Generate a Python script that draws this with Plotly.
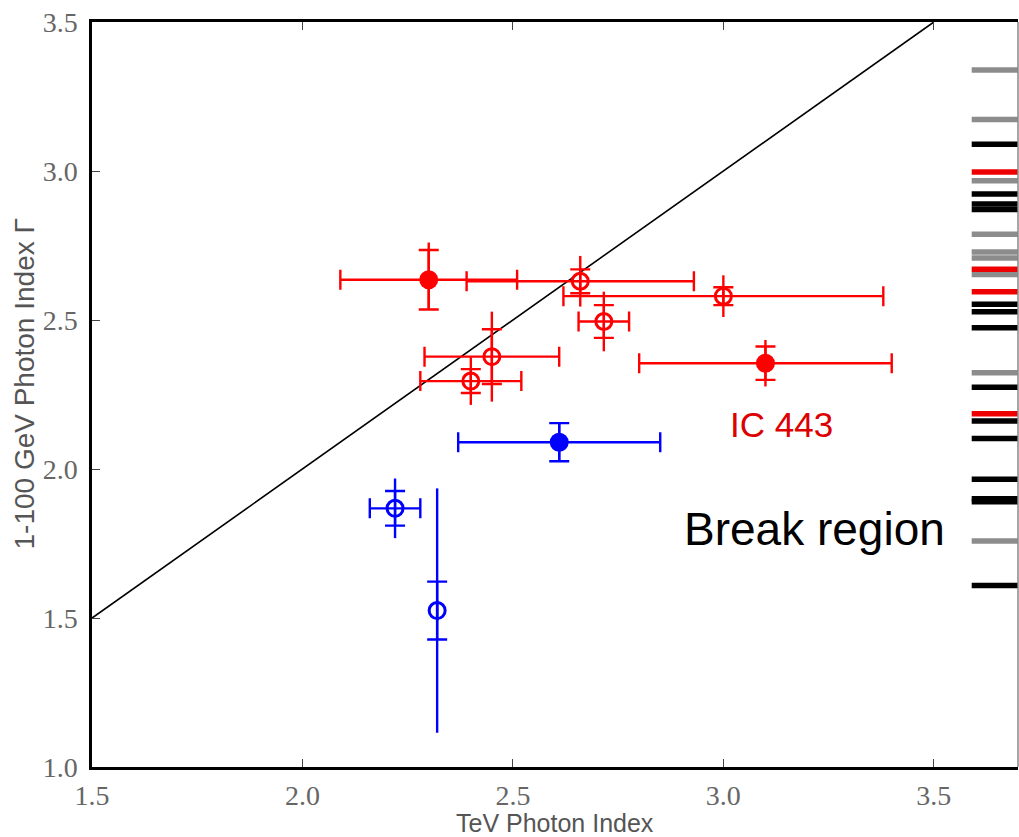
import plotly.graph_objects as go

# ---------------- data ----------------
# red (IC 443-like) sources, filled markers
red_filled_x = [2.30, 3.10]
red_filled_y = [2.635, 2.355]
red_filled_xerr = [0.21, 0.30]
red_filled_ystat = [0.10, 0.056]
red_filled_ysys_plus = [0.125, 0.078]
red_filled_ysys_minus = [0.10, 0.078]

# red open markers
red_open_x = [2.66, 3.00, 2.716, 2.45, 2.40]
red_open_y = [2.63, 2.58, 2.495, 2.377, 2.295]
red_open_xerr = [0.27, 0.38, 0.06, 0.16, 0.12]
red_open_ystat = [0.04, 0.03, 0.055, 0.092, 0.04]
red_open_ysys = [0.085, 0.07, 0.10, 0.151, 0.08]

# blue filled
blue_filled_x = [2.61]
blue_filled_y = [2.09]
blue_filled_xerr = [0.24]
blue_filled_ystat = [0.064]
blue_filled_ysys = [0.064]

# blue open
blue_open_x = [2.22, 2.32]
blue_open_y = [1.868, 1.525]
blue_open_xerr = [0.06, 0.0]
blue_open_ystat = [0.058, 0.097]
blue_open_ysys = [0.10, 0.41]

# y = x reference line
diag = [1.5, 3.5]

# "break region" indices shown as ticks on the right edge
break_gray = [3.339, 3.173, 2.967, 2.788, 2.728, 2.708, 2.653, 2.323, 1.758]
break_black = [3.090, 2.923, 2.889, 2.871, 2.553, 2.528, 2.474, 2.274, 2.161,
               2.102, 1.966, 1.900, 1.890, 1.609]
break_red = [2.997, 2.670, 2.595, 2.185]

x_ticks = [1.5, 2.0, 2.5, 3.0, 3.5]
y_ticks = [1.0, 1.5, 2.0, 2.5, 3.0, 3.5]
x_range = [1.5, 3.7]
y_range = [1.0, 3.5]
break_x0 = 3.59

RED = "#ff0000"
BLUE = "#0000ff"

fig = go.Figure()

# diagonal
fig.add_trace(go.Scatter(x=diag, y=diag, mode="lines",
                         line=dict(color="black", width=1.6), hoverinfo="skip"))

# break region segments
def seg_trace(vals, color, width):
    xs, ys = [], []
    for v in vals:
        xs += [break_x0, x_range[1], None]
        ys += [v, v, None]
    return go.Scatter(x=xs, y=ys, mode="lines",
                      line=dict(color=color, width=width), hoverinfo="skip")

fig.add_trace(seg_trace(break_gray, "#8c8c8c", 5.5))
fig.add_trace(seg_trace(break_black, "#000000", 5.5))
fig.add_trace(seg_trace(break_red, "#ee0000", 5.5))


def add_points(xs, ys, xerr, ystat, ysys_p, ysys_m, color, symbol, size, lw):
    # longer (systematic) vertical bars, no caps
    fig.add_trace(go.Scatter(
        x=xs, y=ys, mode="markers",
        marker=dict(size=1, color="rgba(0,0,0,0)"),
        error_y=dict(type="data", symmetric=False, array=ysys_p, arrayminus=ysys_m,
                     width=0, thickness=2.4, color=color),
        hoverinfo="skip"))
    # statistical bars with caps + markers
    fig.add_trace(go.Scatter(
        x=xs, y=ys, mode="markers",
        marker=dict(size=size, color=color, symbol=symbol,
                    line=dict(width=lw, color=color)),
        error_y=dict(type="data", array=ystat, width=10, thickness=2.4, color=color),
        error_x=dict(type="data", array=xerr, width=10, thickness=2.4, color=color),
        hoverinfo="skip"))


add_points(red_filled_x, red_filled_y, red_filled_xerr, red_filled_ystat,
           red_filled_ysys_plus, red_filled_ysys_minus, RED, "circle", 19, 0)
add_points(red_open_x, red_open_y, red_open_xerr, red_open_ystat,
           red_open_ysys, red_open_ysys, RED, "circle-open", 16, 3)
add_points(blue_filled_x, blue_filled_y, blue_filled_xerr, blue_filled_ystat,
           blue_filled_ysys, blue_filled_ysys, BLUE, "circle", 19, 0)
add_points(blue_open_x, blue_open_y, blue_open_xerr, blue_open_ystat,
           blue_open_ysys, blue_open_ysys, BLUE, "circle-open", 16, 3)

tick_font = dict(family="Liberation Serif, DejaVu Serif, serif", size=28, color="#666666")
xtitle_font = dict(family="Liberation Sans, Arial, sans-serif", size=25, color="#555555")
ytitle_font = dict(family="Liberation Sans, Arial, sans-serif", size=28, color="#555555")

fig.update_layout(
    width=1019, height=837,
    margin=dict(l=92, r=1, t=22, b=70),
    paper_bgcolor="white", plot_bgcolor="white",
    showlegend=False,
    xaxis=dict(range=x_range, tickvals=x_ticks, tickformat=".1f",
               showgrid=False, zeroline=False, automargin=False,
               showline=True, linecolor="black", linewidth=2.5, mirror="ticks",
               ticks="inside", ticklen=8, tickwidth=1, tickcolor="#444444",
               tickfont=tick_font, ticklabelstandoff=2),
    yaxis=dict(range=y_range, tickvals=y_ticks, tickformat=".1f",
               showgrid=False, zeroline=False, automargin=False,
               showline=True, linecolor="black", linewidth=2.5, mirror=False,
               ticks="inside", ticklen=8, tickwidth=1, tickcolor="#444444",
               tickfont=tick_font, ticklabelstandoff=6),
)

# axis titles
fig.add_annotation(x=0.5, y=0, xref="paper", yref="paper", yanchor="middle",
                   yshift=-56, text="TeV Photon Index", showarrow=False,
                   font=xtitle_font)
fig.add_annotation(x=0, y=0.5, xref="paper", yref="paper", xanchor="center",
                   xshift=-68, yshift=10, textangle=-90, text="1-100 GeV Photon Index Γ",
                   showarrow=False, font=ytitle_font)

# thin right spine (cropped edge in reference)
fig.add_shape(type="line", xref="paper", yref="paper", x0=1, x1=1, y0=0, y1=1,
              line=dict(color="#888888", width=1.5))

fig.add_annotation(x=3.137, y=2.148, xref="x", yref="y", text="IC 443",
                   showarrow=False, font=dict(family="Liberation Sans, Arial, sans-serif",
                                              size=35, color="#dd0000"))
fig.add_annotation(x=3.216, y=1.80, xref="x", yref="y", text="Break region",
                   showarrow=False, font=dict(family="Liberation Sans, Arial, sans-serif",
                                              size=46, color="black"))

fig.write_html("out.html",
               config={"displayModeBar": False},
               post_script="document.body.style.margin='0px';"
                           "document.body.style.overflow='hidden';")
